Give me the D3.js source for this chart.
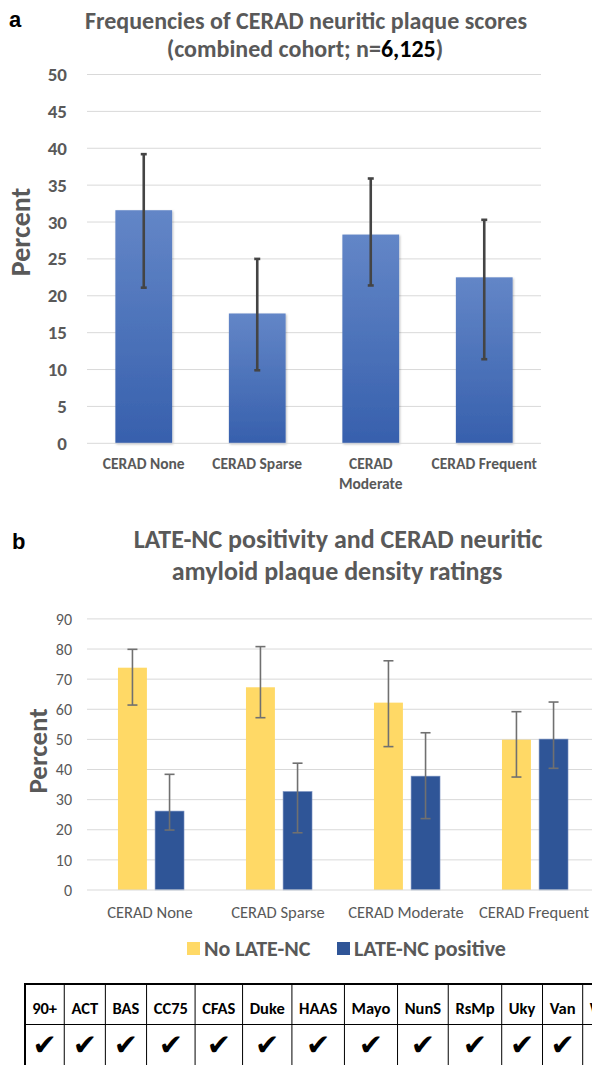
<!DOCTYPE html>
<html>
<head>
<meta charset="utf-8">
<script src="https://cdn.jsdelivr.net/npm/d3@7"></script>
<style>
  html, body { margin: 0; padding: 0; background: #fff; }
  svg { display: block; }
  .f { font-family: Carlito, Lato, "Open Sans", sans-serif; }
</style>
</head>
<body>
<svg id="chart" width="592" height="1065"></svg>
<script>
// ---------- Panel a data ----------
const aCategories = ["CERAD None", "CERAD Sparse", "CERAD Moderate", "CERAD Frequent"];
const aLabelLines = [["CERAD None"], ["CERAD Sparse"], ["CERAD", "Moderate"], ["CERAD Frequent"]];
const aValues = [31.6, 17.6, 28.3, 22.5];
const aErrLow = [21.1, 9.9, 21.4, 11.4];
const aErrHigh = [39.2, 25.0, 35.9, 30.3];
const aTicks = [0, 5, 10, 15, 20, 25, 30, 35, 40, 45, 50];

// ---------- Panel b data ----------
const bCategories = ["CERAD None", "CERAD Sparse", "CERAD Moderate", "CERAD Frequent"];
const bSeries = ["No LATE-NC", "LATE-NC positive"];
const bNoLate = [73.8, 67.3, 62.2, 49.9];
const bNoLateLow = [61.4, 57.2, 47.6, 37.5];
const bNoLateHigh = [79.9, 80.8, 76.1, 59.2];
const bLatePos = [26.2, 32.7, 37.8, 50.1];
const bLatePosLow = [19.9, 19.0, 23.7, 40.4];
const bLatePosHigh = [38.4, 42.1, 52.2, 62.4];
const bTicks = [0, 10, 20, 30, 40, 50, 60, 70, 80, 90];

// ---------- Table data ----------
const cohorts = ["90+", "ACT", "BAS", "CC75", "CFAS", "Duke", "HAAS", "Mayo", "NunS", "RsMp", "Uky", "Van", "WU"];
const included = [true, true, true, true, true, true, true, true, true, true, true, true, true];

const svg = d3.select("#chart");
const grey = "#595959";
const FONT = "Carlito, Lato, 'Open Sans', sans-serif";

const defs = svg.append("defs");
const grad = defs.append("linearGradient").attr("id", "barGrad")
  .attr("x1", 0).attr("y1", 0).attr("x2", 0).attr("y2", 1);
grad.append("stop").attr("offset", "0%").attr("stop-color", "#6386c7");
grad.append("stop").attr("offset", "100%").attr("stop-color", "#3760ad");
const shadow = defs.append("filter").attr("id", "sh").attr("x", "-20%").attr("y", "-20%").attr("width", "140%").attr("height", "140%");
shadow.append("feDropShadow").attr("dx", 1).attr("dy", 1).attr("stdDeviation", 1.2)
  .attr("flood-color", "#000").attr("flood-opacity", 0.25);

// ================= Panel a =================
svg.append("text").text("a").attr("x", 9).attr("y", 27)
  .attr("font-family", "'Liberation Sans', Arial, sans-serif").attr("font-weight", "bold")
  .attr("font-size", 22).attr("fill", "#000");

const tA = svg.append("text").attr("class", "f").attr("text-anchor", "middle")
  .attr("font-weight", "bold").attr("font-size", 24).attr("fill", grey);
tA.append("tspan").attr("x", 306).attr("y", 29).text("Frequencies of CERAD neuritic plaque scores");
const tA2 = tA.append("tspan").attr("x", 305).attr("y", 57);
tA2.append("tspan").text("(combined cohort; n=");
tA2.append("tspan").attr("fill", "#000").text("6,125");
tA2.append("tspan").text(")");

const xA = d3.scaleBand().domain(aCategories).range([87, 541]).paddingInner(0.5).paddingOuter(0.25);
const yA = d3.scaleLinear().domain([0, 50]).range([443.3, 74.5]);

const gA = svg.append("g");
gA.append("g").selectAll("line").data(aTicks.filter(t => t > 0)).join("line")
  .attr("x1", 87).attr("x2", 541).attr("y1", d => yA(d)).attr("y2", d => yA(d))
  .attr("stroke", "#d9d9d9").attr("stroke-width", 1);
const axA = gA.append("g").attr("transform", "translate(70,0)")
  .call(d3.axisLeft(yA).tickValues(aTicks).tickSize(0).tickPadding(3));
axA.select(".domain").remove();
axA.selectAll("text").attr("font-family", FONT).attr("font-weight", "bold")
  .attr("font-size", 19).attr("fill", grey);

gA.append("g").selectAll("rect").data(aCategories).join("rect")
  .attr("x", d => xA(d)).attr("width", xA.bandwidth())
  .attr("y", (d, i) => yA(aValues[i])).attr("height", (d, i) => yA(0) - yA(aValues[i]))
  .attr("fill", "url(#barGrad)").attr("filter", "url(#sh)");
gA.append("line").attr("x1", 87).attr("x2", 541).attr("y1", yA(0)).attr("y2", yA(0))
  .attr("stroke", "#d9d9d9").attr("stroke-width", 1);
const ebA = gA.append("g").attr("stroke", "#444").attr("stroke-width", 2.6);
aCategories.forEach((c, i) => {
  const cx = xA(c) + xA.bandwidth() / 2;
  ebA.append("line").attr("x1", cx).attr("x2", cx).attr("y1", yA(aErrLow[i])).attr("y2", yA(aErrHigh[i]));
  ebA.append("line").attr("x1", cx - 3).attr("x2", cx + 3).attr("y1", yA(aErrLow[i])).attr("y2", yA(aErrLow[i]));
  ebA.append("line").attr("x1", cx - 3).attr("x2", cx + 3).attr("y1", yA(aErrHigh[i])).attr("y2", yA(aErrHigh[i]));
});
aCategories.forEach((c, i) => {
  const cx = xA(c) + xA.bandwidth() / 2;
  const t = gA.append("text").attr("class", "f").attr("text-anchor", "middle")
    .attr("font-weight", "bold").attr("font-size", 15.5).attr("fill", grey);
  aLabelLines[i].forEach((ln, j) => {
    t.append("tspan").attr("x", cx).attr("y", 468.5 + j * 20).text(ln);
  });
});
svg.append("text").attr("class", "f").attr("transform", "translate(30,232) rotate(-90)")
  .attr("text-anchor", "middle").attr("font-weight", "bold").attr("font-size", 28)
  .attr("fill", grey).text("Percent");

// ================= Panel b =================
svg.append("text").text("b").attr("x", 12).attr("y", 549)
  .attr("font-family", "'Liberation Sans', Arial, sans-serif").attr("font-weight", "bold")
  .attr("font-size", 22).attr("fill", "#000");

const tB = svg.append("text").attr("class", "f").attr("text-anchor", "middle")
  .attr("font-weight", "bold").attr("font-size", 26).attr("fill", grey);
tB.append("tspan").attr("x", 338).attr("y", 548).text("LATE-NC positivity and CERAD neuritic");
tB.append("tspan").attr("x", 337).attr("y", 580).text("amyloid plaque density ratings");

const x0 = d3.scaleBand().domain(bCategories).range([87, 599]).paddingInner(0.484).paddingOuter(0.242);
const x1 = d3.scaleBand().domain(bSeries).range([0, x0.bandwidth()]).paddingInner(0.22);
const yB = d3.scaleLinear().domain([0, 90]).range([890, 618.9]);
const colors = d3.scaleOrdinal().domain(bSeries).range(["#FFD966", "#2F5597"]);

const gB = svg.append("g");
gB.append("g").selectAll("line").data(bTicks.filter(t => t > 0)).join("line")
  .attr("x1", 87).attr("x2", 599).attr("y1", d => yB(d)).attr("y2", d => yB(d))
  .attr("stroke", "#d9d9d9").attr("stroke-width", 1);
const axB = gB.append("g").attr("transform", "translate(74,0)")
  .call(d3.axisLeft(yB).tickValues(bTicks).tickSize(0).tickPadding(2));
axB.select(".domain").remove();
axB.selectAll("text").attr("font-family", FONT).attr("font-size", 16).attr("fill", grey);

const seriesVals = [
  { name: bSeries[0], v: bNoLate, lo: bNoLateLow, hi: bNoLateHigh },
  { name: bSeries[1], v: bLatePos, lo: bLatePosLow, hi: bLatePosHigh }
];
seriesVals.forEach(s => {
  gB.append("g").selectAll("rect").data(bCategories).join("rect")
    .attr("x", d => x0(d) + x1(s.name)).attr("width", x1.bandwidth())
    .attr("y", (d, i) => yB(s.v[i])).attr("height", (d, i) => yB(0) - yB(s.v[i]))
    .attr("fill", colors(s.name))
    .attr("stroke", s.name === bSeries[1] ? "#7f96c4" : "none").attr("stroke-width", 0.6);
});
gB.append("line").attr("x1", 87).attr("x2", 599).attr("y1", yB(0)).attr("y2", yB(0))
  .attr("stroke", "#d9d9d9").attr("stroke-width", 1);
const ebB = gB.append("g").attr("stroke", "#707070").attr("stroke-width", 1.6);
seriesVals.forEach(s => {
  bCategories.forEach((c, i) => {
    const cx = x0(c) + x1(s.name) + x1.bandwidth() / 2;
    ebB.append("line").attr("x1", cx).attr("x2", cx).attr("y1", yB(s.lo[i])).attr("y2", yB(s.hi[i]));
    ebB.append("line").attr("x1", cx - 5).attr("x2", cx + 5).attr("y1", yB(s.lo[i])).attr("y2", yB(s.lo[i]));
    ebB.append("line").attr("x1", cx - 5).attr("x2", cx + 5).attr("y1", yB(s.hi[i])).attr("y2", yB(s.hi[i]));
  });
});
bCategories.forEach(c => {
  gB.append("text").attr("class", "f").attr("text-anchor", "middle")
    .attr("x", x0(c) + x0.bandwidth() / 2 - 1).attr("y", 917.5)
    .attr("font-size", 16.5).attr("fill", grey).text(c);
});
svg.append("text").attr("class", "f").attr("transform", "translate(47,751) rotate(-90)")
  .attr("text-anchor", "middle").attr("font-weight", "bold").attr("font-size", 27)
  .attr("fill", grey).text("Percent");

// legend
const leg = svg.append("g");
const legPos = [187, 337];
bSeries.forEach((s, i) => {
  leg.append("rect").attr("x", legPos[i]).attr("y", 942).attr("width", 13).attr("height", 13)
    .attr("fill", colors(s));
  leg.append("text").attr("class", "f").attr("x", legPos[i] + 17).attr("y", 955.5)
    .attr("font-weight", "bold").attr("font-size", 22).attr("fill", grey).text(s);
});

// ================= Table =================
const tbl = svg.append("g");
const tableLeft = 25, tableTop = 984, row1 = 1024.5, tableRightFirst12 = 582.7;
const meas = tbl.append("g");
const widths = cohorts.map(c => {
  const t = meas.append("text").attr("class", "f").attr("font-weight", "bold").attr("font-size", 16.5).text(c);
  const w = t.node().getComputedTextLength();
  t.remove();
  return w;
});
meas.remove();
const sum12 = d3.sum(widths.slice(0, 12));
const pad = (tableRightFirst12 - tableLeft - sum12) / 12;
const edges = [tableLeft];
widths.forEach(w => edges.push(edges[edges.length - 1] + w + pad));

cohorts.forEach((c, i) => {
  const cx = (edges[i] + edges[i + 1]) / 2;
  tbl.append("text").attr("class", "f").attr("text-anchor", "middle")
    .attr("x", cx).attr("y", 1014).attr("font-weight", "bold").attr("font-size", 16.5)
    .attr("fill", "#000").text(c);
  if (included[i]) {
    tbl.append("text").attr("text-anchor", "middle").attr("x", cx).attr("y", 1055)
      .attr("font-family", "'DejaVu Sans', sans-serif").attr("font-size", 29)
      .attr("fill", "#000").text("\u2714");
  }
});
edges.forEach((e, i) => {
  tbl.append("line").attr("x1", e).attr("x2", e).attr("y1", tableTop).attr("y2", 1070)
    .attr("stroke", "#000").attr("stroke-width", i === 0 ? 2 : 1);
});
tbl.append("line").attr("x1", tableLeft - 1).attr("x2", 600).attr("y1", tableTop).attr("y2", tableTop)
  .attr("stroke", "#000").attr("stroke-width", 2);
tbl.append("line").attr("x1", tableLeft).attr("x2", 600).attr("y1", row1).attr("y2", row1)
  .attr("stroke", "#000").attr("stroke-width", 1);
</script>
</body>
</html>
